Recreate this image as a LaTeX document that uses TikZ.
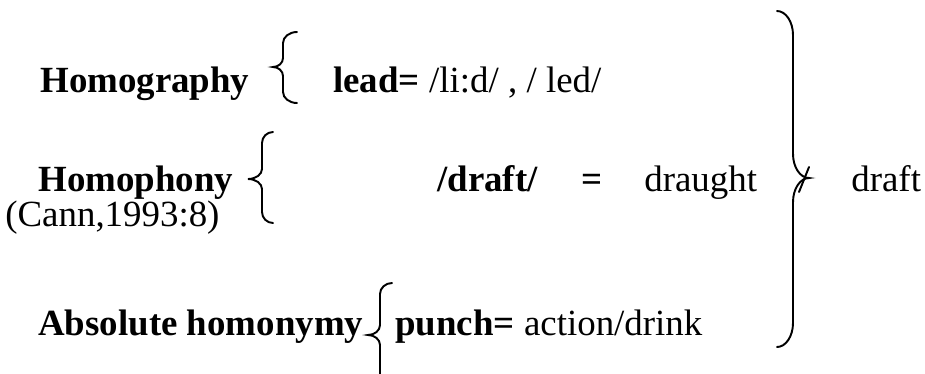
\documentclass[tikz,border=0pt]{standalone}
\usepackage{fontspec}
\setmainfont{Liberation Serif}
\usetikzlibrary{positioning}

% curly bracket: end x, stem x, tip x, top y, tip y, bottom y, end bend, tip bend
\newcommand{\curlybrk}[8]{%
  \draw[brk] (#1,#4) .. controls ({#2+0.45*(#1-#2)},#4) and (#2,{#4+0.45*#7}) .. (#2,{#4+#7})
    -- (#2,{#5-#8}) .. controls (#2,{#5-0.45*#8}) and ({#2+0.45*(#3-#2)},#5) .. (#3,#5)
    .. controls ({#2+0.45*(#3-#2)},#5) and (#2,{#5+0.45*#8}) .. (#2,{#5+#8})
    -- (#2,{#6-#7}) .. controls (#2,{#6-0.45*#7}) and ({#2+0.45*(#1-#2)},#6) .. (#1,#6);}

\begin{document}
\begin{tikzpicture}[x=0.02cm,y=-0.02cm,
    brk/.style={line width=1.1pt,line cap=round},
    every node/.style={inner sep=0pt,anchor=base west,
      font=\fontsize{21}{25}\selectfont}]
\useasboundingbox (0,0) rectangle (925,373);

\begin{scope}
    \node (homgr) at (40,92) {\textbf{Homography}};
    \node (lead) at (333,92) {\textbf{lead=} /li:d/ , / led/};
    \node (homph) at (38,191) {\textbf{Homophony}};
    \node (cann) at (5,226) {(Cann,1993:8)};
    \node (drsl) at (437,191) {\textbf{/draft/}};
    \node (eq) at (581,191) {\textbf{=}};
    \node (draught) at (644,191) {draught};
    \node (draft) at (851,191) {draft};
    \node (absol) at (38,335) {\textbf{Absolute homonymy}};
    \node (punch) at (395,335) {\textbf{punch=} action/drink};
\end{scope}

\begin{scope}
    \curlybrk{297}{283}{273}{32}{67}{103}{11}{9}
    \curlybrk{273}{262}{248}{132}{179}{223}{11}{10}
    \curlybrk{392}{380}{368}{283}{335}{395}{11}{10}
    \curlybrk{777}{793}{809}{11}{178}{347}{24}{24}
    \draw[brk] (809,167) -- (799,192);
\end{scope}
\end{tikzpicture}
\end{document}
